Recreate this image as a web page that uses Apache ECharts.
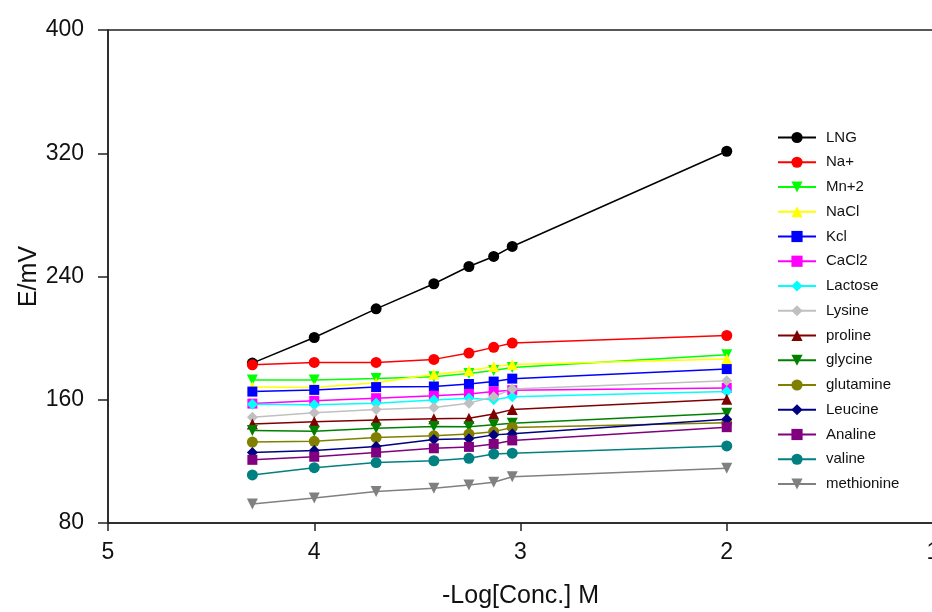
<!DOCTYPE html>
<html>
<head>
<meta charset="utf-8">
<script src="https://cdn.jsdelivr.net/npm/echarts@6/dist/echarts.min.js"></script>
<style>html,body{margin:0;padding:0;background:#fff}#c{width:932px;height:612px}</style>
</head>
<body>
<div id="c"></div>
<script>
var xValues = [4.3, 4.0, 3.7, 3.42, 3.25, 3.13, 3.04, 2.0];
var yTicks = [80, 160, 240, 320, 400];
var seriesNames = ['LNG','Na+','Mn+2','NaCl','Kcl','CaCl2','Lactose','Lysine','proline','glycine','glutamine','Leucine','Analine','valine','methionine'];
var LNG        = [183.8, 200.4, 219.0, 235.3, 246.5, 253.0, 259.5, 321.3];
var NaPlus     = [182.7, 184.2, 184.2, 186.2, 190.3, 194.0, 196.8, 201.7];
var Mn2        = [172.9, 172.9, 173.8, 175.0, 177.0, 179.0, 180.9, 189.2];
var NaCl       = [168.3, 168.0, 171.0, 176.5, 178.8, 181.6, 182.9, 186.4];
var Kcl        = [165.3, 166.4, 168.2, 168.6, 170.2, 171.8, 173.7, 179.9];
var CaCl2      = [157.5, 159.3, 161.0, 162.6, 163.8, 165.3, 166.2, 167.7];
var Lactose    = [157.0, 156.7, 157.8, 159.9, 161.0, 160.0, 162.0, 165.3];
var Lysine     = [148.7, 151.5, 153.6, 155.0, 157.8, 162.0, 167.0, 172.3];
var proline    = [144.3, 145.8, 146.9, 147.7, 148.0, 150.8, 153.6, 160.4];
var glycine    = [140.0, 139.6, 141.5, 142.6, 142.4, 143.7, 144.8, 151.3];
var glutamine  = [132.5, 133.0, 135.5, 136.6, 137.7, 139.3, 142.0, 145.0];
var Leucine    = [125.8, 127.0, 129.6, 134.2, 134.7, 137.2, 138.0, 147.4];
var Analine    = [121.0, 123.0, 125.7, 128.5, 129.4, 131.3, 133.6, 142.2];
var valine     = [111.2, 115.9, 119.2, 120.4, 122.0, 124.8, 125.3, 130.0];
var methionine = [92.3, 96.2, 100.4, 102.5, 104.7, 106.5, 110.0, 115.5];

var allValues = [LNG, NaPlus, Mn2, NaCl, Kcl, CaCl2, Lactose, Lysine, proline, glycine, glutamine, Leucine, Analine, valine, methionine];
var colors = ['#000000','#ff0000','#00ff00','#ffff00','#0000ff','#ff00ff','#00ffff','#c0c0c0','#800000','#008000','#808000','#000080','#800080','#008080','#808080'];
var symbols = ['circle','circle','triangle','triangle','rect','rect','diamond','diamond','triangle','triangle','circle','diamond','rect','circle','triangle'];
var rotates = [0,0,180,0,0,0,0,0,0,180,0,0,0,0,180];

var series = seriesNames.map(function(n, i){
  return {
    name: n,
    type: 'line',
    data: xValues.map(function(x, j){ return [x, allValues[i][j]]; }),
    symbol: symbols[i],
    symbolRotate: rotates[i],
    symbolSize: symbols[i]==='rect' ? 10 : 11,
    showAllSymbol: true,
    lineStyle: {color: colors[i], width: 1.5},
    itemStyle: {color: colors[i]},
    emphasis: {disabled: true},
    animation: false
  };
});

var chart = echarts.init(document.getElementById('c'), null, {renderer: 'canvas'});
chart.setOption({
  animation: false,
  backgroundColor: '#fff',
  grid: {left: 108, right: -1, top: 30, bottom: 89, outerBoundsMode: 'none', containLabel: false, show: true, borderColor: '#222', borderWidth: 1.5, backgroundColor: 'transparent'},
  legend: {
    orient: 'vertical',
    left: 772,
    top: 125,
    itemWidth: 38,
    itemHeight: 14,
    itemGap: 9.75,
    textStyle: {fontFamily: 'Liberation Sans, Arial, sans-serif', fontSize: 15, color: '#111', padding: [0,0,0,5]},
    data: seriesNames
  },
  xAxis: {
    type: 'value',
    inverse: true,
    min: 1, max: 5, interval: 1,
    name: '-Log[Conc.] M',
    nameLocation: 'middle',
    nameGap: 61,
    nameMoveOverlap: false,
    nameTextStyle: {fontFamily: 'Liberation Sans, Arial, sans-serif', fontSize: 25, color: '#111'},
    axisLine: {lineStyle: {color: '#222', width: 1.5}},
    axisTick: {show: true, length: 8, lineStyle: {color: '#222', width: 1.5}},
    axisLabel: {fontFamily: 'Liberation Sans, Arial, sans-serif', fontSize: 23, color: '#111', margin: 18, showMaxLabel: true, showMinLabel: true},
    splitLine: {show: false}
  },
  yAxis: {
    type: 'value',
    min: yTicks[0], max: yTicks[yTicks.length-1], interval: 80,
    name: 'E/mV',
    nameLocation: 'middle',
    nameRotate: 90,
    nameGap: 66,
    nameMoveOverlap: false,
    nameTextStyle: {fontFamily: 'Liberation Sans, Arial, sans-serif', fontSize: 25, color: '#111'},
    axisLine: {show: true, lineStyle: {color: '#222', width: 1.5}},
    axisTick: {show: true, length: 10, lineStyle: {color: '#222', width: 1.5}},
    axisLabel: {fontFamily: 'Liberation Sans, Arial, sans-serif', fontSize: 23, color: '#111', margin: 24},
    splitLine: {show: false}
  },
  series: series
});
</script>
</body>
</html>
